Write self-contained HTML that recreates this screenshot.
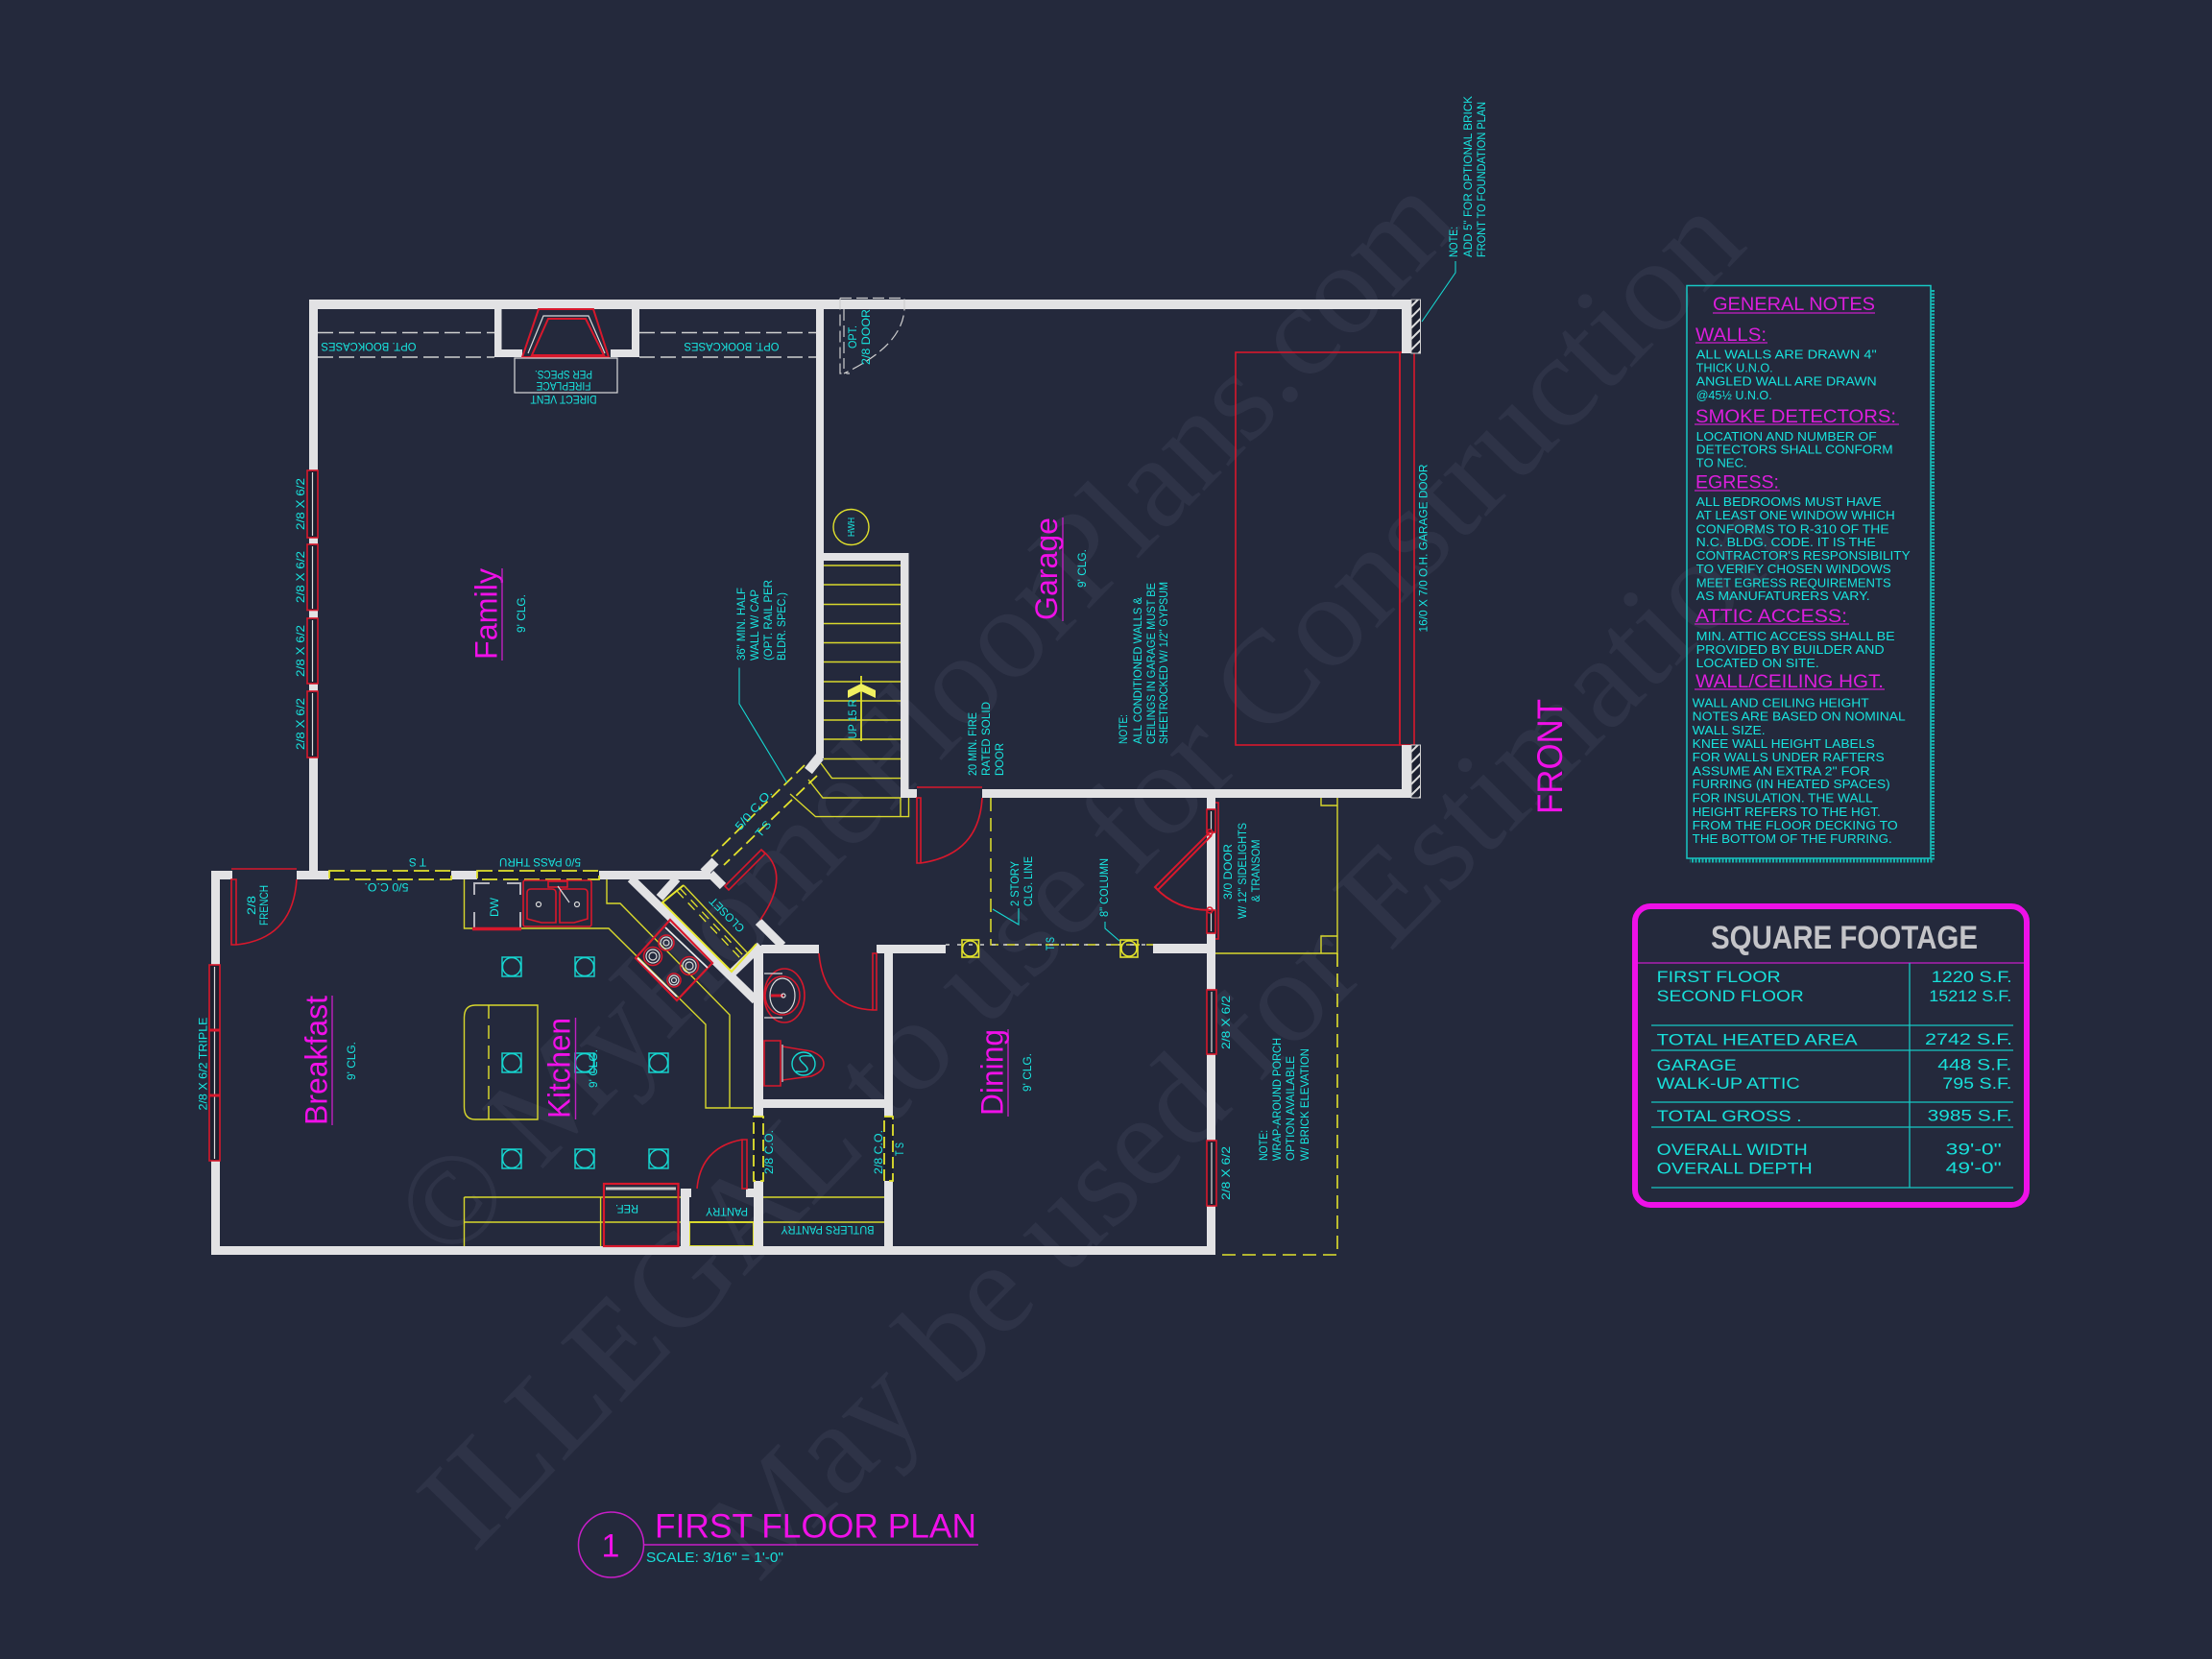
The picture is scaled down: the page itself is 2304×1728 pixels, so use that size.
<!DOCTYPE html>
<html><head><meta charset="utf-8"><style>
html,body{margin:0;padding:0;background:#24293c}
svg{display:block}
text{font-family:"Liberation Sans",sans-serif}
.t{font-size:12px;fill:#18e6e0}
.n{font-size:13px;fill:#18e2dc}
.h{font-size:19px;fill:#dc1edc}
.f{font-size:17px;fill:#18e0da}
.m{font-size:32px;fill:#f010e8}
.w{font-family:"Liberation Serif",serif;font-size:136px;fill:#2e3347}
.wl{fill:#e2e2e4}
.ws{stroke:#e2e2e4;stroke-width:10;fill:none}
.y{stroke:#d8d82c;stroke-width:1.4;fill:none}
.yd{stroke:#e2e22c;stroke-width:1.8;fill:none;stroke-dasharray:14 7}
.r{stroke:#d8182c;stroke-width:1.6;fill:none}
.r2{stroke:#d8182c;stroke-width:2.2;fill:none}
.c{stroke:#16d8d2;stroke-width:1.4;fill:none}
.g{stroke:#dcdcdc;stroke-width:1.2;fill:none}
.gd{stroke:#cfcfcf;stroke-width:1.4;fill:none;stroke-dasharray:16 6}
</style></head><body>
<svg width="2304" height="1728" viewBox="0 0 2304 1728" xmlns="http://www.w3.org/2000/svg">
<defs>
<pattern id="hb" width="8" height="8" patternUnits="userSpaceOnUse" patternTransform="rotate(45)"><rect width="8" height="8" fill="#1c2030"/><rect width="2" height="8" fill="#dedede"/></pattern>
</defs>
<rect width="2304" height="1728" fill="#24293c"/>

<!-- watermark -->
<text class="w" transform="translate(467 1318) rotate(-45.7)" textLength="1512" lengthAdjust="spacingAndGlyphs">© MyHomeFloorPlans.com</text>
<text class="w" transform="translate(493 1619) rotate(-45.7)" textLength="1903" lengthAdjust="spacingAndGlyphs">ILLEGAL to use for Construction</text>
<text class="w" transform="translate(790 1650) rotate(-45)" textLength="1525" lengthAdjust="spacingAndGlyphs">May be used for Estimation</text>

<!-- garage door -->
<rect class="r" x="1287" y="367" width="171" height="409"/>
<rect class="r" x="1458" y="367" width="15" height="409"/>

<!-- yellow counters and stairs -->
<g class="y">
<path d="M858 589H938M858 609H938M858 629.5H938M858 649.5H938M858 669.5H938M858 689.5H938M858 710H938M858 730H938M858 750H938M858 770H938M858 790.5H938"/>
<path d="M855 795L866.5 810.6H938M842 812L857 831H938M823 827L849.5 850.6H946.5V831M938 831V850.6"/>
<path d="M483.5 916V967H634L735 1067V1154H784M632 916V941H646L760 1057V1154"/>
<path d="M483.5 1247H709M483.5 1273H709M483.5 1247V1298M625.6 1247V1298"/>
<path d="M795 1247H921M795 1273H921"/>
<path d="M718 1273H785V1298H718Z" stroke-width="2"/>
<path d="M495 1047H560V1166H495Q483.5 1166 483.5 1153V1060Q483.5 1047 495 1047Z"/>
<path d="M1393 831V993H1266M1376 831V839H1393M1376 993V975H1393"/>
</g>
<path class="yd" style="stroke-width:1.4" d="M509 1047V1166"/>
<path class="yd" style="stroke-width:1.6" d="M1393 993V1307H1266"/>
<path class="yd" style="stroke-width:1.5" d="M1032 831V984H1201"/>
<path d="M985 984H1201" style="stroke:#cfcfcf;stroke-width:1.4;stroke-dasharray:4 8;fill:none"/>

<!-- walls -->
<g class="wl">
<rect x="322" y="312" width="1148" height="10"/>
<rect x="322" y="312" width="9" height="595"/>
<rect x="850" y="322" width="8" height="468"/>
<rect x="850" y="576" width="96.500" height="8"/>
<rect x="938" y="576" width="8.500" height="255"/>
<rect x="938" y="822" width="17" height="9"/>
<rect x="1023" y="822" width="447" height="9"/>
<rect x="1460" y="322" width="10" height="46"/>
<rect x="1460" y="776" width="10" height="55"/>
<rect x="515" y="322" width="7.500" height="50"/>
<rect x="658" y="322" width="8" height="50"/>
<rect x="515" y="364" width="29" height="8"/>
<rect x="636" y="364" width="30" height="8"/>
<rect x="220" y="907" width="22" height="9"/>
<rect x="220" y="907" width="9" height="400"/>
<rect x="220" y="1298" width="1046" height="9"/>
<rect x="309" y="907" width="34" height="9"/>
<rect x="470" y="907" width="27" height="9"/>
<rect x="624" y="907" width="116" height="9"/>
<rect x="1257" y="831" width="9" height="476"/>
<rect x="1201" y="983" width="56" height="10"/>
<rect x="913" y="984" width="72" height="9"/>
<rect x="793" y="984" width="60" height="9"/>
<rect x="785" y="985" width="10" height="178"/>
<rect x="785" y="1230" width="10" height="77"/>
<rect x="921" y="993" width="9" height="170"/>
<rect x="921" y="1230" width="9" height="77"/>
<rect x="795" y="1145" width="126" height="9"/>
<rect x="709" y="1238" width="9" height="69"/>
<rect x="709" y="1238" width="11" height="9"/>
<rect x="777" y="1238" width="10" height="9"/>
</g>
<path class="ws" d="M854 788L842 803M745 897L733 909"/>
<path class="ws" style="stroke-width:9" d="M657 915L787 1042M705 915L687 935M763 1013L792 985M740 910L753 923M790 960L815 985"/>
<rect x="1470" y="312" width="9.500" height="56" fill="url(#hb)" stroke="#cfcfcf"/>
<rect x="1470" y="776" width="9.500" height="55" fill="url(#hb)" stroke="#cfcfcf"/>

<!-- fireplace -->
<path class="r" style="stroke-width:2" d="M561 322H618L634 372H544ZM554 370L571 332H610L629 370Z"/>
<path class="g" d="M550 368L566 329H613L630 368"/>
<rect class="g" x="536" y="373" width="107" height="36"/>
<path class="gd" d="M331 346.500H515M331 372H515M666 346.500H850M666 372H850"/>

<!-- optional door -->
<path class="gd" style="stroke-width:1.2;stroke-dasharray:12 5" d="M875 310.500H942V322Q940 360 879 389M875 310.500V389H885M879 322V384"/>

<!-- HWH -->
<circle cx="886.500" cy="549" r="18.500" style="stroke:#e0e02c;stroke-width:1.4;fill:none"/>

<!-- stair arrow -->
<path d="M897 704V772" style="stroke:#e2e22c;stroke-width:1.8"/>
<polygon points="897,712 912,719 912,727 897,720 883,727 883,719" fill="#f0f060"/>

<!-- windows -->
<g fill="#1c1f2e" stroke="#d8182c" stroke-width="1.6">
<rect x="320" y="490" width="11" height="70"/><rect x="320" y="567" width="11" height="68.500"/><rect x="320" y="644" width="11" height="68"/><rect x="320" y="720" width="11" height="69"/>
<rect x="218" y="1005" width="11" height="204"/>
<rect x="1257" y="1031" width="10" height="67"/><rect x="1257" y="1188" width="10" height="68"/>
<rect x="1257" y="843" width="9" height="24"/><rect x="1257" y="948" width="9" height="24"/>
</g>
<path class="g" d="M325.500 492V558M325.500 569V634M325.500 646V710M325.500 722V787M223.500 1007V1207M1262 1033V1096M1262 1190V1254M1261.500 845V865M1261.500 950V970"/>
<path class="r" style="stroke-width:3" d="M218 1073H229M218 1141H229"/>
<path class="r" d="M1266 836H1269V978H1266"/>

<!-- yellow dashed openings -->
<g fill="#1c1f2e" stroke="#e2e22c" stroke-width="1.8">
<rect x="343" y="907" width="127" height="9" stroke-dasharray="16 6"/>
<rect x="497" y="907" width="127" height="9" stroke-dasharray="16 6"/>
<rect x="785" y="1163" width="10" height="67" stroke-dasharray="12 5"/>
<rect x="921" y="1163" width="9" height="67" stroke-dasharray="12 5"/>
</g>
<path class="yd" style="stroke-dasharray:12 6" d="M838 797L741 892M851 808L754 901"/>

<!-- closet -->
<path d="M712 922L690 940L762 1012L788 983" style="stroke:#e8e830;stroke-width:2;fill:none"/>
<path class="y" d="M712 922L778 992"/>
<path class="yd" style="stroke-dasharray:10 7;stroke-width:1.3" d="M708 925L774 995M705 928L771 998"/>

<!-- doors -->
<g class="r">
<path d="M241 916H246V984H241ZM246 984Q305 978 309 916M241 905H309"/>
<path d="M955 831H959V899H955ZM959 899Q1020 890 1023 831M955 820H1023"/>
<path d="M773 1187H778V1238H773ZM773 1187Q730 1195 726 1238"/>
<path d="M909 993H913V1052H909ZM909 1052Q858 1050 853 993"/>
<path d="M755 923L793 885L797 889L759 927ZM793 885Q825 910 792 958" />
<path style="stroke-width:2" d="M1260 867L1203 924L1206 927L1262 870M1203 924Q1225 948 1260 948"/>
</g>
<circle cx="1260" cy="867" r="3" class="r"/><circle cx="1260" cy="948" r="3" class="r"/>

<!-- appliances -->
<path d="M494 932V920H510M528 920H542V932M494 950V967M542 950V967" style="stroke:#b4b4bc;stroke-width:2;fill:none"/>
<path d="M492 967.500H543" style="stroke:#d8182c;stroke-width:3.500"/>
<rect class="r" x="545" y="917" width="71" height="48" rx="2"/>
<path class="r" d="M549 930Q549 926 553 926H575Q579 926 579 930V961L564 961L549 957ZM583 930Q583 926 587 926H608Q612 926 612 930V957L598 961L583 961Z"/>
<rect class="r" x="571" y="918" width="20" height="6" fill="#d8d8d8"/>
<path class="g" d="M581 923L593 940"/>
<circle cx="561" cy="942" r="2.500" class="g"/><circle cx="601" cy="942" r="2.500" class="g"/>
<polygon class="r2" points="662,998 698,958 742,1003 705,1042"/>
<path d="M693 966L737 1008M664 998L705 1038" style="stroke:#e8e8e8;stroke-width:1.800;fill:none"/>
<g class="g"><circle cx="680" cy="996" r="7"/><circle cx="680" cy="996" r="4"/><circle cx="694" cy="982" r="6"/><circle cx="694" cy="982" r="3"/><circle cx="718" cy="1006" r="7"/><circle cx="718" cy="1006" r="4"/><circle cx="702" cy="1021" r="5"/><circle cx="702" cy="1021" r="2.500"/></g>
<circle cx="680" cy="996" r="9.500" class="r"/><circle cx="718" cy="1006" r="9.500" class="r"/><circle cx="702" cy="1021" r="7" class="r"/><circle cx="694" cy="982" r="8" class="r"/>
<rect class="r2" x="629" y="1233" width="77.500" height="65"/>
<path d="M631 1238H704" style="stroke:#c8c8c8;stroke-width:3;fill:none"/>

<!-- stools -->
<g class="c">
<rect x="523" y="997" width="20" height="20"/><circle cx="533" cy="1007" r="9.500"/>
<rect x="599" y="997" width="20" height="20"/><circle cx="609" cy="1007" r="9.500"/>
<rect x="523" y="1097" width="20" height="20"/><circle cx="533" cy="1107" r="9.500"/>
<rect x="599" y="1097" width="20" height="20"/><circle cx="609" cy="1107" r="9.500"/>
<rect x="676" y="1097" width="20" height="20"/><circle cx="686" cy="1107" r="9.500"/>
<rect x="523" y="1197" width="20" height="20"/><circle cx="533" cy="1207" r="9.500"/>
<rect x="599" y="1197" width="20" height="20"/><circle cx="609" cy="1207" r="9.500"/>
<rect x="676" y="1197" width="20" height="20"/><circle cx="686" cy="1207" r="9.500"/>
</g>

<!-- bath -->
<g class="r"><ellipse cx="817" cy="1037" rx="21" ry="28"/><ellipse cx="815" cy="1037" rx="18" ry="20"/><path d="M796 1084H813V1131H796Z"/><path d="M815 1090L845 1095Q858 1100 858 1108Q858 1116 845 1121L815 1125"/><path d="M803 1037H816" style="stroke-width:3"/></g>
<ellipse cx="815" cy="1037" rx="13" ry="18" class="g"/><circle cx="816" cy="1037" r="2" class="g"/>
<path class="g" d="M796 1014L815 1014M796 1060L815 1060M815 1088V1127"/>
<circle cx="837" cy="1108" r="12" class="c"/><path class="c" d="M845 1100Q826 1098 837 1108Q848 1118 829 1116"/>

<!-- columns -->
<g style="stroke:#e2e22c;stroke-width:1.600;fill:none"><rect x="1002" y="979" width="17.500" height="18"/><circle cx="1010.500" cy="988" r="8"/><rect x="1167" y="979" width="18" height="18"/><circle cx="1176" cy="988" r="8"/></g>

<!-- leaders -->
<path class="c" style="stroke-width:1.1" d="M770 695.500V733L819.500 815M1516 272V284L1481 335M1061 946V963L1034 947M1151 960V967L1166 980"/>

<!-- room labels -->
<text class="m" transform="translate(517.500 687) rotate(-90)" textLength="95" lengthAdjust="spacingAndGlyphs">Family</text>
<path d="M523 592V688M1107 539V647M346 1037V1172M599.500 1060V1166M1050 1072V1163" style="stroke:#c020c0;stroke-width:1.400"/>
<text class="m" transform="translate(1101 646) rotate(-90)" textLength="107" lengthAdjust="spacingAndGlyphs">Garage</text>
<text class="m" transform="translate(340.500 1172) rotate(-90)" textLength="135" lengthAdjust="spacingAndGlyphs">Breakfast</text>
<text class="m" transform="translate(593.500 1165) rotate(-90)" textLength="105" lengthAdjust="spacingAndGlyphs">Kitchen</text>
<text class="m" transform="translate(1044.500 1162) rotate(-90)" textLength="90" lengthAdjust="spacingAndGlyphs">Dining</text>
<text class="m" style="font-size:37px" transform="translate(1627 848) rotate(-90)" textLength="120" lengthAdjust="spacingAndGlyphs">FRONT</text>

<!-- small labels rotated -90 centered -->
<g class="t" text-anchor="middle" style="font-size:12px">
<text transform="translate(547 639) rotate(-90)" textLength="40" lengthAdjust="spacingAndGlyphs">9' CLG.</text>
<text transform="translate(1131 592) rotate(-90)" textLength="40" lengthAdjust="spacingAndGlyphs">9' CLG.</text>
<text transform="translate(370 1105) rotate(-90)" textLength="40" lengthAdjust="spacingAndGlyphs">9' CLG.</text>
<text transform="translate(622 1113) rotate(-90)" textLength="40" lengthAdjust="spacingAndGlyphs">9' CLG.</text>
<text transform="translate(1074 1117) rotate(-90)" textLength="40" lengthAdjust="spacingAndGlyphs">9' CLG.</text>
<text transform="translate(317 525) rotate(-90)" textLength="54" lengthAdjust="spacingAndGlyphs">2/8 X 6/2</text>
<text transform="translate(317 601) rotate(-90)" textLength="54" lengthAdjust="spacingAndGlyphs">2/8 X 6/2</text>
<text transform="translate(317 678) rotate(-90)" textLength="54" lengthAdjust="spacingAndGlyphs">2/8 X 6/2</text>
<text transform="translate(317 754) rotate(-90)" textLength="54" lengthAdjust="spacingAndGlyphs">2/8 X 6/2</text>
<text transform="translate(215.500 1108) rotate(-90)" textLength="97" lengthAdjust="spacingAndGlyphs">2/8 X 6/2 TRIPLE</text>
<text transform="translate(1281 1065) rotate(-90)" textLength="56" lengthAdjust="spacingAndGlyphs">2/8 X 6/2</text>
<text transform="translate(1281 1222) rotate(-90)" textLength="56" lengthAdjust="spacingAndGlyphs">2/8 X 6/2</text>
<text transform="translate(892 351) rotate(-90)" textLength="24" lengthAdjust="spacingAndGlyphs">OPT.</text>
<text transform="translate(906 351) rotate(-90)" textLength="58" lengthAdjust="spacingAndGlyphs">2/8 DOOR</text>
<text transform="translate(890 549) rotate(-90)" style="font-size:10px" textLength="20" lengthAdjust="spacingAndGlyphs">HWH</text>
<text transform="translate(892 749) rotate(-90)" textLength="41" lengthAdjust="spacingAndGlyphs">UP 15 R</text>
<text transform="translate(1486.500 571) rotate(-90)" textLength="175" lengthAdjust="spacingAndGlyphs">16/0 X 7/0 O.H. GARAGE DOOR</text>
<text transform="translate(266 943) rotate(-90)" textLength="20" lengthAdjust="spacingAndGlyphs">2/8</text>
<text transform="translate(279 943) rotate(-90)" textLength="42" lengthAdjust="spacingAndGlyphs">FRENCH</text>
<text transform="translate(519 945) rotate(-90)" textLength="20" lengthAdjust="spacingAndGlyphs">DW</text>
<text transform="translate(805 1200) rotate(-90)" textLength="46" lengthAdjust="spacingAndGlyphs">2/8 C.O.</text>
<text transform="translate(919 1200) rotate(-90)" textLength="46" lengthAdjust="spacingAndGlyphs">2/8 C.O.</text>
<text transform="translate(941 1197) rotate(-90)" textLength="14" lengthAdjust="spacingAndGlyphs">T S</text>
<text transform="translate(1098 983) rotate(-90)" textLength="14" lengthAdjust="spacingAndGlyphs">T S</text>
<text transform="translate(1283 908) rotate(-90)" textLength="58" lengthAdjust="spacingAndGlyphs">3/0 DOOR</text>
<text transform="translate(1298 907) rotate(-90)" textLength="100" lengthAdjust="spacingAndGlyphs">W/ 12" SIDELIGHTS</text>
<text transform="translate(1312 907) rotate(-90)" textLength="65" lengthAdjust="spacingAndGlyphs">&amp; TRANSOM</text>
<text transform="translate(1154 924.500) rotate(-90)" textLength="61" lengthAdjust="spacingAndGlyphs">8" COLUMN</text>
<!-- upside down -->
<text transform="translate(384 357) rotate(180)" textLength="99" lengthAdjust="spacingAndGlyphs">OPT. BOOKCASES</text>
<text transform="translate(762 357) rotate(180)" textLength="99" lengthAdjust="spacingAndGlyphs">OPT. BOOKCASES</text>
<text transform="translate(587 412) rotate(180)" textLength="69" lengthAdjust="spacingAndGlyphs">DIRECT VENT</text>
<text transform="translate(587 398) rotate(180)" textLength="57" lengthAdjust="spacingAndGlyphs">FIREPLACE</text>
<text transform="translate(587 386) rotate(180)" textLength="60" lengthAdjust="spacingAndGlyphs">PER SPECS.</text>
<text transform="translate(435 894) rotate(180)" textLength="18" lengthAdjust="spacingAndGlyphs">T S</text>
<text transform="translate(562.500 894) rotate(180)" textLength="85" lengthAdjust="spacingAndGlyphs">5/0 PASS THRU</text>
<text transform="translate(402.500 920) rotate(180)" textLength="46" lengthAdjust="spacingAndGlyphs">5/0 C.O.</text>
<text transform="translate(653 1255) rotate(180)" textLength="24" lengthAdjust="spacingAndGlyphs">REF.</text>
<text transform="translate(757 1258) rotate(180)" textLength="44" lengthAdjust="spacingAndGlyphs">PANTRY</text>
<text transform="translate(862 1277) rotate(180)" textLength="97" lengthAdjust="spacingAndGlyphs">BUTLERS PANTRY</text>
<!-- diagonal -->
<text transform="translate(788 846) rotate(-49)" textLength="52" lengthAdjust="spacingAndGlyphs">5/0 C.O.</text>
<text transform="translate(798 866) rotate(-49)" textLength="18" lengthAdjust="spacingAndGlyphs">T S</text>
<text transform="translate(760 950) rotate(-135)" textLength="46" lengthAdjust="spacingAndGlyphs">CLOSET</text>
</g>

<!-- multiline rotated notes -->
<g class="t">
<text transform="translate(776 688) rotate(-90)" textLength="76" lengthAdjust="spacingAndGlyphs">36" MIN. HALF</text>
<text transform="translate(790 688) rotate(-90)" textLength="74" lengthAdjust="spacingAndGlyphs">WALL W/ CAP</text>
<text transform="translate(804 688) rotate(-90)" textLength="84" lengthAdjust="spacingAndGlyphs">(OPT. RAIL PER</text>
<text transform="translate(818 688) rotate(-90)" textLength="71" lengthAdjust="spacingAndGlyphs">BLDR. SPEC.)</text>
<text transform="translate(1174 775) rotate(-90)" textLength="31" lengthAdjust="spacingAndGlyphs">NOTE:</text>
<text transform="translate(1189 775) rotate(-90)" textLength="153" lengthAdjust="spacingAndGlyphs">ALL CONDITIONED WALLS &amp;</text>
<text transform="translate(1203 775) rotate(-90)" textLength="168" lengthAdjust="spacingAndGlyphs">CEILINGS IN GARAGE MUST BE</text>
<text transform="translate(1216 775) rotate(-90)" textLength="169" lengthAdjust="spacingAndGlyphs">SHEETROCKED W/ 1/2" GYPSUM</text>
<text transform="translate(1017 808) rotate(-90)" textLength="66" lengthAdjust="spacingAndGlyphs">20 MIN. FIRE</text>
<text transform="translate(1031 808) rotate(-90)" textLength="77" lengthAdjust="spacingAndGlyphs">RATED SOLID</text>
<text transform="translate(1045 808) rotate(-90)" textLength="34" lengthAdjust="spacingAndGlyphs">DOOR</text>
<text transform="translate(1320 1209) rotate(-90)" textLength="32" lengthAdjust="spacingAndGlyphs">NOTE:</text>
<text transform="translate(1334 1209) rotate(-90)" textLength="128" lengthAdjust="spacingAndGlyphs">WRAP-AROUND PORCH</text>
<text transform="translate(1348 1209) rotate(-90)" textLength="109" lengthAdjust="spacingAndGlyphs">OPTION AVAILABLE</text>
<text transform="translate(1363 1209) rotate(-90)" textLength="117" lengthAdjust="spacingAndGlyphs">W/ BRICK ELEVATION</text>
<text transform="translate(1518 268) rotate(-90)" textLength="32" lengthAdjust="spacingAndGlyphs">NOTE:</text>
<text transform="translate(1533 268) rotate(-90)" textLength="168" lengthAdjust="spacingAndGlyphs">ADD 5" FOR OPTIONAL BRICK</text>
<text transform="translate(1547 268) rotate(-90)" textLength="162" lengthAdjust="spacingAndGlyphs">FRONT TO FOUNDATION PLAN</text>
<text transform="translate(1061 944) rotate(-90)" textLength="47" lengthAdjust="spacingAndGlyphs">2 STORY</text>
<text transform="translate(1075 944) rotate(-90)" textLength="52" lengthAdjust="spacingAndGlyphs">CLG. LINE</text>
</g>

<!-- general notes -->
<rect x="1757" y="297.500" width="254" height="596.500" fill="none" stroke="#16c8c4" stroke-width="1.500"/>
<path d="M2013 302V896.500H1760" fill="none" stroke="#16b4b0" stroke-width="4" stroke-dasharray="2 1.500"/>
<g class="h">
<text x="1784" y="323" textLength="169" lengthAdjust="spacingAndGlyphs">GENERAL NOTES</text>
<text x="1766" y="355" textLength="74" lengthAdjust="spacingAndGlyphs">WALLS:</text>
<text x="1766" y="440" textLength="209" lengthAdjust="spacingAndGlyphs">SMOKE DETECTORS:</text>
<text x="1766" y="508.600" textLength="87" lengthAdjust="spacingAndGlyphs">EGRESS:</text>
<text x="1766" y="648.200" textLength="158" lengthAdjust="spacingAndGlyphs">ATTIC ACCESS:</text>
<text x="1766" y="715.900" textLength="196" lengthAdjust="spacingAndGlyphs">WALL/CEILING HGT.</text>
</g>
<path d="M1784 326H1953M1766 357H1841M1765 442H1978M1765 511H1854M1765 650H1926M1765 718H1963" stroke="#c81ec8" stroke-width="1.200"/>
<g class="n">
<text x="1766.700" y="373.500" textLength="188" lengthAdjust="spacingAndGlyphs">ALL WALLS ARE DRAWN 4"</text>
<text x="1766.700" y="387.300" textLength="80" lengthAdjust="spacingAndGlyphs">THICK U.N.O.</text>
<text x="1766.700" y="401.600" textLength="188" lengthAdjust="spacingAndGlyphs">ANGLED WALL ARE DRAWN</text>
<text x="1766.700" y="415.900" textLength="79" lengthAdjust="spacingAndGlyphs">@45½ U.N.O.</text>
<text x="1766.700" y="458.800" textLength="188" lengthAdjust="spacingAndGlyphs">LOCATION AND NUMBER OF</text>
<text x="1766.700" y="472.700" textLength="205" lengthAdjust="spacingAndGlyphs">DETECTORS SHALL CONFORM</text>
<text x="1766.700" y="486.500" textLength="53" lengthAdjust="spacingAndGlyphs">TO NEC.</text>
<text x="1766.700" y="527" textLength="193" lengthAdjust="spacingAndGlyphs">ALL BEDROOMS MUST HAVE</text>
<text x="1766.700" y="541.200" textLength="207" lengthAdjust="spacingAndGlyphs">AT LEAST ONE WINDOW WHICH</text>
<text x="1766.700" y="555.500" textLength="201" lengthAdjust="spacingAndGlyphs">CONFORMS TO R-310 OF THE</text>
<text x="1766.700" y="569" textLength="187" lengthAdjust="spacingAndGlyphs">N.C. BLDG. CODE. IT IS THE</text>
<text x="1766.700" y="582.900" textLength="223" lengthAdjust="spacingAndGlyphs">CONTRACTOR'S RESPONSIBILITY</text>
<text x="1766.700" y="597" textLength="203" lengthAdjust="spacingAndGlyphs">TO VERIFY CHOSEN WINDOWS</text>
<text x="1766.700" y="611.400" textLength="203" lengthAdjust="spacingAndGlyphs">MEET EGRESS REQUIREMENTS</text>
<text x="1766.700" y="624.900" textLength="181" lengthAdjust="spacingAndGlyphs">AS MANUFATURERS VARY.</text>
<text x="1766.700" y="666.900" textLength="207" lengthAdjust="spacingAndGlyphs">MIN. ATTIC ACCESS SHALL BE</text>
<text x="1766.700" y="680.800" textLength="196" lengthAdjust="spacingAndGlyphs">PROVIDED BY BUILDER AND</text>
<text x="1766.700" y="695" textLength="128" lengthAdjust="spacingAndGlyphs">LOCATED ON SITE.</text>
<text x="1762.700" y="736.700" textLength="184" lengthAdjust="spacingAndGlyphs">WALL AND CEILING HEIGHT</text>
<text x="1762.700" y="750.600" textLength="222" lengthAdjust="spacingAndGlyphs">NOTES ARE BASED ON NOMINAL</text>
<text x="1762.700" y="764.900" textLength="76" lengthAdjust="spacingAndGlyphs">WALL SIZE.</text>
<text x="1762.700" y="778.800" textLength="190" lengthAdjust="spacingAndGlyphs">KNEE WALL HEIGHT LABELS</text>
<text x="1762.700" y="793" textLength="200" lengthAdjust="spacingAndGlyphs">FOR WALLS UNDER RAFTERS</text>
<text x="1762.700" y="807.300" textLength="185" lengthAdjust="spacingAndGlyphs">ASSUME AN EXTRA 2" FOR</text>
<text x="1762.700" y="821.200" textLength="206" lengthAdjust="spacingAndGlyphs">FURRING (IN HEATED SPACES)</text>
<text x="1762.700" y="835.500" textLength="188" lengthAdjust="spacingAndGlyphs">FOR INSULATION. THE WALL</text>
<text x="1762.700" y="849.800" textLength="196" lengthAdjust="spacingAndGlyphs">HEIGHT REFERS TO THE HGT.</text>
<text x="1762.700" y="864" textLength="214" lengthAdjust="spacingAndGlyphs">FROM THE FLOOR DECKING TO</text>
<text x="1762.700" y="878" textLength="208" lengthAdjust="spacingAndGlyphs">THE BOTTOM OF THE FURRING.</text>
</g>

<!-- square footage -->
<rect x="1703" y="944" width="408" height="311" rx="16" fill="none" stroke="#ee10e8" stroke-width="6"/>
<path d="M1706 1003H2108" stroke="#c81ec8" stroke-width="1.300"/>
<path d="M1989 1003V1237M1720 1068H2097M1720 1094H2097M1720 1148H2097M1720 1174H2097M1720 1237H2097" stroke="#16c8c4" stroke-width="1.300"/>
<text x="1782" y="988" textLength="278" lengthAdjust="spacingAndGlyphs" style="font-size:34px;font-weight:bold;fill:#c4c4c8">SQUARE FOOTAGE</text>
<g class="f">
<text x="1725.700" y="1023" textLength="129" lengthAdjust="spacingAndGlyphs">FIRST FLOOR</text>
<text x="1725.700" y="1043" textLength="153" lengthAdjust="spacingAndGlyphs">SECOND FLOOR</text>
<text x="1725.700" y="1088.700" textLength="209" lengthAdjust="spacingAndGlyphs">TOTAL HEATED AREA</text>
<text x="1725.700" y="1115" textLength="83" lengthAdjust="spacingAndGlyphs">GARAGE</text>
<text x="1725.700" y="1134" textLength="149" lengthAdjust="spacingAndGlyphs">WALK-UP ATTIC</text>
<text x="1725.700" y="1168" textLength="151" lengthAdjust="spacingAndGlyphs">TOTAL GROSS .</text>
<text x="1725.700" y="1203" textLength="157" lengthAdjust="spacingAndGlyphs">OVERALL WIDTH</text>
<text x="1725.700" y="1222.700" textLength="162" lengthAdjust="spacingAndGlyphs">OVERALL DEPTH</text>
<text x="2011.700" y="1023" textLength="84" lengthAdjust="spacingAndGlyphs">1220 S.F.</text>
<text x="2009.300" y="1043" textLength="86" lengthAdjust="spacingAndGlyphs">15212 S.F.</text>
<text x="2005" y="1088" textLength="91" lengthAdjust="spacingAndGlyphs">2742 S.F.</text>
<text x="2018.300" y="1114.300" textLength="77" lengthAdjust="spacingAndGlyphs">448 S.F.</text>
<text x="2023.300" y="1134" textLength="72" lengthAdjust="spacingAndGlyphs">795 S.F.</text>
<text x="2007.700" y="1167.300" textLength="88" lengthAdjust="spacingAndGlyphs">3985 S.F.</text>
<text x="2026.700" y="1202.700" textLength="58" lengthAdjust="spacingAndGlyphs">39'-0"</text>
<text x="2026.700" y="1222" textLength="58" lengthAdjust="spacingAndGlyphs">49'-0"</text>
</g>

<!-- title block -->
<circle cx="636.500" cy="1609" r="34" fill="none" stroke="#c81ec8" stroke-width="1.500"/>
<text x="636" y="1621.500" text-anchor="middle" style="font-size:34px;fill:#f010e8">1</text>
<text x="682" y="1601.700" textLength="335" lengthAdjust="spacingAndGlyphs" style="font-size:35px;fill:#f010e8">FIRST FLOOR PLAN</text>
<path d="M671 1609H1019" stroke="#c81ec8" stroke-width="1.500"/>
<text x="673" y="1627" textLength="143" lengthAdjust="spacingAndGlyphs" style="font-size:15px;fill:#18e0da">SCALE: 3/16" = 1'-0"</text>
</svg>
</body></html>
